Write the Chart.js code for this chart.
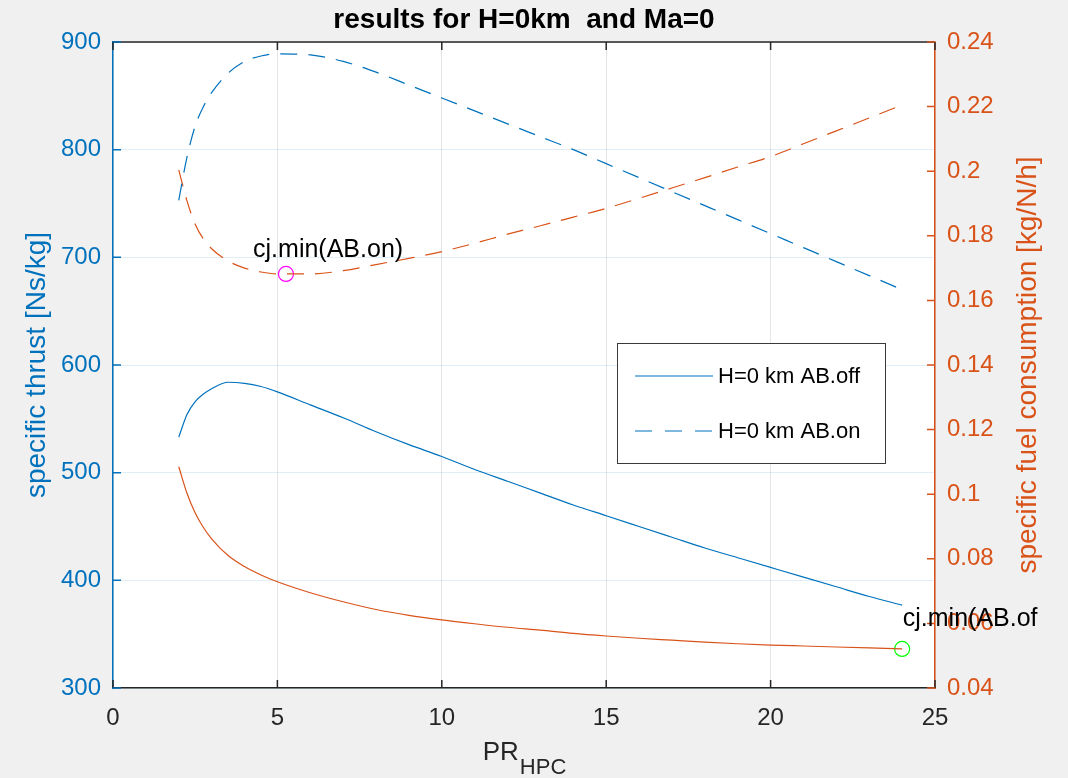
<!DOCTYPE html>
<html lang="en">
<head>
  <meta charset="UTF-8">
  <title>results for H=0km and Ma=0</title>
  <script src="https://cdn.jsdelivr.net/npm/chart.js"></script>
  <style>
    html, body { margin: 0; padding: 0; background: #f0f0f0; }
    #wrap { width: 1068px; height: 778px; position: relative; }
  </style>
</head>
<body>
  <div id="wrap"><canvas id="chart"></canvas></div>

  <script>
    // compressor pressure ratio samples
    const prHPC = [2, 2.25, 2.5, 2.75, 3, 3.5, 4, 4.5, 5, 6, 7, 8, 9, 10, 11, 12, 13, 14, 15, 16, 17, 18, 19, 20, 21, 22, 23, 24];

    // specific thrust [Ns/kg]
    const thrustOff = [533, 554, 566, 573, 578, 584, 583, 580, 575, 563, 551, 538, 526, 515, 503, 492, 481, 470, 460, 450, 440, 430, 421, 412, 403, 394, 385, 377];
    const thrustOn = [753, 793, 822, 840, 853, 871, 882, 887, 889, 888, 882, 872, 860, 848, 836, 824, 812, 800, 787, 774, 761, 748, 735, 722, 709, 696, 683, 670];

    // specific fuel consumption [kg/N/h]
    const sfcOff = [0.1085, 0.1003, 0.0942, 0.0897, 0.0862, 0.0810, 0.0776, 0.0750, 0.0729, 0.0695, 0.0667, 0.0643, 0.0625, 0.0611, 0.0599, 0.0588, 0.0579, 0.0569, 0.0561, 0.0554, 0.0548, 0.0542, 0.0537, 0.0533, 0.0530, 0.0527, 0.0524, 0.0521];
    const sfcOn = [0.2004, 0.1908, 0.1836, 0.1790, 0.1760, 0.1722, 0.1700, 0.1688, 0.1682, 0.1682, 0.1692, 0.1711, 0.1730, 0.1751, 0.1777, 0.1805, 0.1831, 0.1858, 0.1885, 0.1916, 0.1948, 0.1980, 0.2013, 0.2045, 0.2085, 0.2125, 0.2165, 0.2205];

    // cj minimum markers and their text labels (data coords, right axis)
    const minX = [5.26, 24];
    const minY = [0.1682, 0.0521];
    const minLabels = ['cj.min(AB.on)', 'cj.min(AB.of'];
    const minLabelX = [4.26, 24.02];
    const minLabelY = [0.1734, 0.0592];

    const legendLabels = ['H=0 km AB.off', 'H=0 km AB.on'];
    const xRange = [0, 25, 5];
    const thrustRange = [300, 900, 100];
    const sfcRange = [0.04, 0.24, 0.02];

    const BLUE = '#0072BD';
    const ORANGE = '#D95319';
    const DARK = '#262626';
    const FONT = "'Liberation Sans', Arial, sans-serif";

    const pts = (xs, ys) => xs.map((x, i) => ({ x: x, y: ys[i] }));

    Chart.defaults.font.family = FONT;

    const matlabPlugin = {
      id: 'matlabLook',
      beforeDraw(chart) {
        const { ctx, chartArea: a } = chart;
        ctx.save();
        ctx.fillStyle = '#ffffff';
        ctx.fillRect(a.left, a.top, a.right - a.left, a.bottom - a.top);
        ctx.restore();
      },
      afterDraw(chart) {
        const { ctx, chartArea: a, scales } = chart;
        const x = scales.x, yl = scales.y, yr = scales.y2;
        ctx.save();

        // box and inward ticks
        ctx.lineWidth = 1.5;
        ctx.strokeStyle = DARK;
        ctx.beginPath();
        ctx.moveTo(a.left, a.top); ctx.lineTo(a.right, a.top);
        x.ticks.forEach(t => {
          const p = x.getPixelForValue(t.value);
          ctx.moveTo(p, a.bottom); ctx.lineTo(p, a.bottom - 8);
          ctx.moveTo(p, a.top); ctx.lineTo(p, a.top + 8);
        });
        ctx.stroke();
        ctx.strokeStyle = BLUE;
        ctx.beginPath();
        yl.ticks.forEach(t => {
          const p = yl.getPixelForValue(t.value);
          ctx.moveTo(a.left, p); ctx.lineTo(a.left + 8, p);
        });
        ctx.stroke();
        ctx.strokeStyle = ORANGE;
        ctx.beginPath();
        yr.ticks.forEach(t => {
          const p = yr.getPixelForValue(t.value);
          ctx.moveTo(a.right, p); ctx.lineTo(a.right - 8, p);
        });
        ctx.stroke();

        // title
        ctx.fillStyle = '#000';
        ctx.textAlign = 'center';
        ctx.textBaseline = 'alphabetic';
        ctx.font = 'bold 28px ' + FONT;
        ctx.fillText('results for H=0km  and Ma=0', (a.left + a.right) / 2, 28);

        // x axis title with subscript
        ctx.fillStyle = DARK;
        ctx.textAlign = 'left';
        ctx.font = '26px ' + FONT;
        const wPR = ctx.measureText('PR').width;
        ctx.font = '22px ' + FONT;
        const wSub = ctx.measureText('HPC').width;
        const x0 = (a.left + a.right) / 2 - (wPR + wSub) / 2;
        ctx.font = '26px ' + FONT;
        ctx.fillText('PR', x0, 760);
        ctx.font = '22px ' + FONT;
        ctx.fillText('HPC', x0 + wPR + 1, 774);

        // y axis titles
        ctx.font = '28px ' + FONT;
        ctx.textAlign = 'center';
        ctx.textBaseline = 'middle';
        const midY = (a.top + a.bottom) / 2;
        ctx.save();
        ctx.translate(37, midY);
        ctx.rotate(-Math.PI / 2);
        ctx.fillStyle = BLUE;
        ctx.fillText('specific thrust [Ns/kg]', 0, 0);
        ctx.restore();
        ctx.save();
        ctx.translate(1028, midY);
        ctx.rotate(-Math.PI / 2);
        ctx.fillStyle = ORANGE;
        ctx.fillText('specific fuel consumption [kg/N/h]', 0, 0);
        ctx.restore();

        // legend box
        const lg = { left: 617, top: 343, right: 885, bottom: 463 };
        ctx.fillStyle = '#ffffff';
        ctx.fillRect(lg.left, lg.top, lg.right - lg.left, lg.bottom - lg.top);
        ctx.strokeStyle = '#3a3a3a';
        ctx.lineWidth = 1;
        ctx.strokeRect(lg.left + 0.5, lg.top + 0.5, lg.right - lg.left, lg.bottom - lg.top);
        const rows = [376, 431];
        ctx.font = '22px ' + FONT;
        ctx.textAlign = 'left';
        ctx.textBaseline = 'middle';
        [0, 1].forEach(i => {
          const ds = chart.data.datasets[i];
          ctx.strokeStyle = ds.borderColor;
          ctx.lineWidth = ds.borderWidth;
          ctx.setLineDash(i === 1 ? [17, 13] : []);
          ctx.beginPath();
          ctx.moveTo(635, rows[i]); ctx.lineTo(713, rows[i]);
          ctx.stroke();
          ctx.setLineDash([]);
          ctx.fillStyle = '#000';
          ctx.fillText(legendLabels[i], 718, rows[i] + 1);
        });

        // cj.min labels
        ctx.font = '25px ' + FONT;
        ctx.textBaseline = 'alphabetic';
        ctx.fillStyle = '#000';
        minLabels.forEach((s, i) => {
          ctx.fillText(s, x.getPixelForValue(minLabelX[i]), yr.getPixelForValue(minLabelY[i]));
        });
        ctx.restore();
      }
    };

    new Chart(document.getElementById('chart'), {
      type: 'scatter',
      data: {
        datasets: [
          { label: legendLabels[0], data: pts(prHPC, thrustOff), yAxisID: 'y', borderColor: BLUE, borderWidth: 1.2, showLine: true, pointRadius: 0, cubicInterpolationMode: 'monotone' },
          { label: legendLabels[1], data: pts(prHPC, thrustOn), yAxisID: 'y', borderColor: BLUE, borderWidth: 1.2, borderDash: [17, 11], showLine: true, pointRadius: 0, cubicInterpolationMode: 'monotone' },
          { label: 'sfc AB.off', data: pts(prHPC, sfcOff), yAxisID: 'y2', borderColor: ORANGE, borderWidth: 1.2, showLine: true, pointRadius: 0, cubicInterpolationMode: 'monotone' },
          { label: 'sfc AB.on', data: pts(prHPC, sfcOn), yAxisID: 'y2', borderColor: ORANGE, borderWidth: 1.2, borderDash: [17, 11], showLine: true, pointRadius: 0, cubicInterpolationMode: 'monotone' },
          { label: 'cj.min AB.on', data: [{ x: minX[0], y: minY[0] }], yAxisID: 'y2', borderColor: '#ff00ff', backgroundColor: 'rgba(0,0,0,0)', borderWidth: 1.2, pointRadius: 7.5 },
          { label: 'cj.min AB.off', data: [{ x: minX[1], y: minY[1] }], yAxisID: 'y2', borderColor: '#00ff00', backgroundColor: 'rgba(0,0,0,0)', borderWidth: 1.2, pointRadius: 7.5 }
        ]
      },
      options: {
        responsive: true,
        maintainAspectRatio: false,
        animation: false,
        events: [],
        layout: { padding: { top: 42, left: 0, right: 0, bottom: 0 } },
        plugins: { legend: { display: false }, tooltip: { enabled: false }, title: { display: false } },
        scales: {
          x: {
            type: 'linear', min: xRange[0], max: xRange[1],
            afterFit: s => { s.height = 90; },
            ticks: { stepSize: xRange[2], color: DARK, font: { size: 24 }, padding: 16, maxRotation: 0, autoSkip: false },
            grid: { color: 'rgba(38,38,38,0.12)', drawTicks: false },
            border: { color: DARK, width: 1.5 }
          },
          y: {
            position: 'left', min: thrustRange[0], max: thrustRange[1],
            afterFit: s => { s.width = 113; },
            ticks: { stepSize: thrustRange[2], color: BLUE, font: { size: 24 }, padding: 12 },
            grid: { color: 'rgba(0,114,189,0.12)', drawTicks: false },
            border: { color: BLUE, width: 1.5 }
          },
          y2: {
            position: 'right', min: sfcRange[0], max: sfcRange[1],
            afterFit: s => { s.width = 133; },
            ticks: { stepSize: sfcRange[2], color: ORANGE, font: { size: 24 }, padding: 12,
              callback: v => String(Number(v.toFixed(2))) },
            grid: { display: false, drawTicks: false },
            border: { color: ORANGE, width: 1.5 }
          }
        }
      },
      plugins: [matlabPlugin]
    });
  </script>
</body>
</html>
